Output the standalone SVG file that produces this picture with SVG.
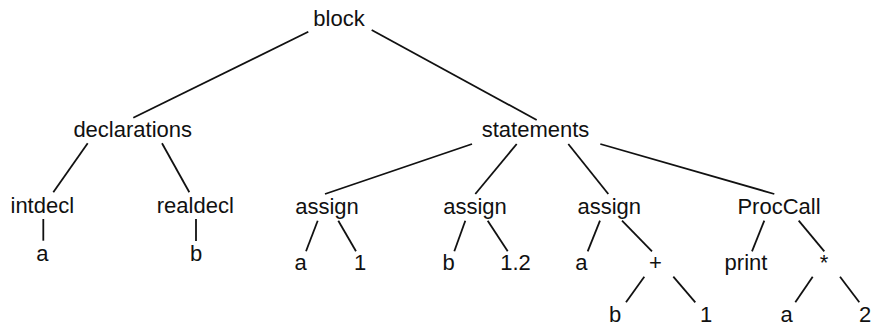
<svg xmlns="http://www.w3.org/2000/svg" width="872" height="328" viewBox="0 0 872 328">
<style>
text{font-family:"Liberation Sans",Arial,sans-serif;font-size:22px;fill:#111;text-anchor:middle}
line{stroke:#111;stroke-width:1.8;stroke-linecap:butt}
</style>
<rect width="872" height="328" fill="#fff"/>
<g id="connectors">
<line x1="308.3" y1="31.7" x2="133.3" y2="117.7"/>
<line x1="371.7" y1="30" x2="536.7" y2="120"/>
<line x1="87.7" y1="143.3" x2="53.3" y2="192.3"/>
<line x1="162" y1="143.3" x2="189.3" y2="192.3"/>
<line x1="43.3" y1="219" x2="43.3" y2="240.7"/>
<line x1="196" y1="219" x2="196" y2="241"/>
<line x1="472" y1="144" x2="325" y2="194"/>
<line x1="516.7" y1="144" x2="475.3" y2="194"/>
<line x1="568.3" y1="144" x2="608.3" y2="194"/>
<line x1="600.3" y1="144" x2="774.3" y2="194"/>
<line x1="317.7" y1="220.7" x2="306" y2="251.3"/>
<line x1="338.3" y1="220.7" x2="356" y2="251.3"/>
<line x1="465.3" y1="220.7" x2="454.3" y2="251.3"/>
<line x1="487.7" y1="220.7" x2="507.7" y2="251.3"/>
<line x1="600" y1="220.7" x2="587.7" y2="251.3"/>
<line x1="622" y1="220.7" x2="652" y2="251.3"/>
<line x1="764.3" y1="220.7" x2="752" y2="251.3"/>
<line x1="798.7" y1="220.7" x2="824.3" y2="251.3"/>
<line x1="644.3" y1="276.7" x2="626" y2="302.3"/>
<line x1="673.3" y1="276.7" x2="695.3" y2="302.3"/>
<line x1="812.7" y1="276.7" x2="795.3" y2="302.3"/>
<line x1="840" y1="276.7" x2="859.3" y2="302.3"/>
</g>
<g id="n-block"><text x="339" y="26">block</text></g>
<g id="n-declarations"><text x="132.7" y="137.3">declarations</text></g>
<g id="n-statements"><text x="535.5" y="137.3">statements</text></g>
<g id="n-intdecl"><text x="42.3" y="212.5">intdecl</text></g>
<g id="n-realdecl"><text x="195.3" y="212.5">realdecl</text></g>
<g id="n-a1"><text x="42.3" y="261.3">a</text></g>
<g id="n-b1"><text x="196" y="261.3">b</text></g>
<g id="n-assign1"><text x="327" y="214">assign</text></g>
<g id="n-assign2"><text x="475" y="214">assign</text></g>
<g id="n-assign3"><text x="609.3" y="214">assign</text></g>
<g id="n-proccall"><text x="779" y="214">ProcCall</text></g>
<g id="n-a2"><text x="300.5" y="270">a</text></g>
<g id="n-one1"><text x="360" y="270">1</text></g>
<g id="n-b2"><text x="448.5" y="270">b</text></g>
<g id="n-onetwo"><text x="515.5" y="270">1.2</text></g>
<g id="n-a3"><text x="581.3" y="270">a</text></g>
<g id="n-plus"><text x="655.5" y="270">+</text></g>
<g id="n-print"><text x="746" y="270">print</text></g>
<g id="n-times"><text x="824" y="270">*</text></g>
<g id="n-b3"><text x="615" y="322">b</text></g>
<g id="n-one2"><text x="706" y="322">1</text></g>
<g id="n-a4"><text x="786.5" y="322">a</text></g>
<g id="n-two"><text x="865" y="322">2</text></g>
</svg>
